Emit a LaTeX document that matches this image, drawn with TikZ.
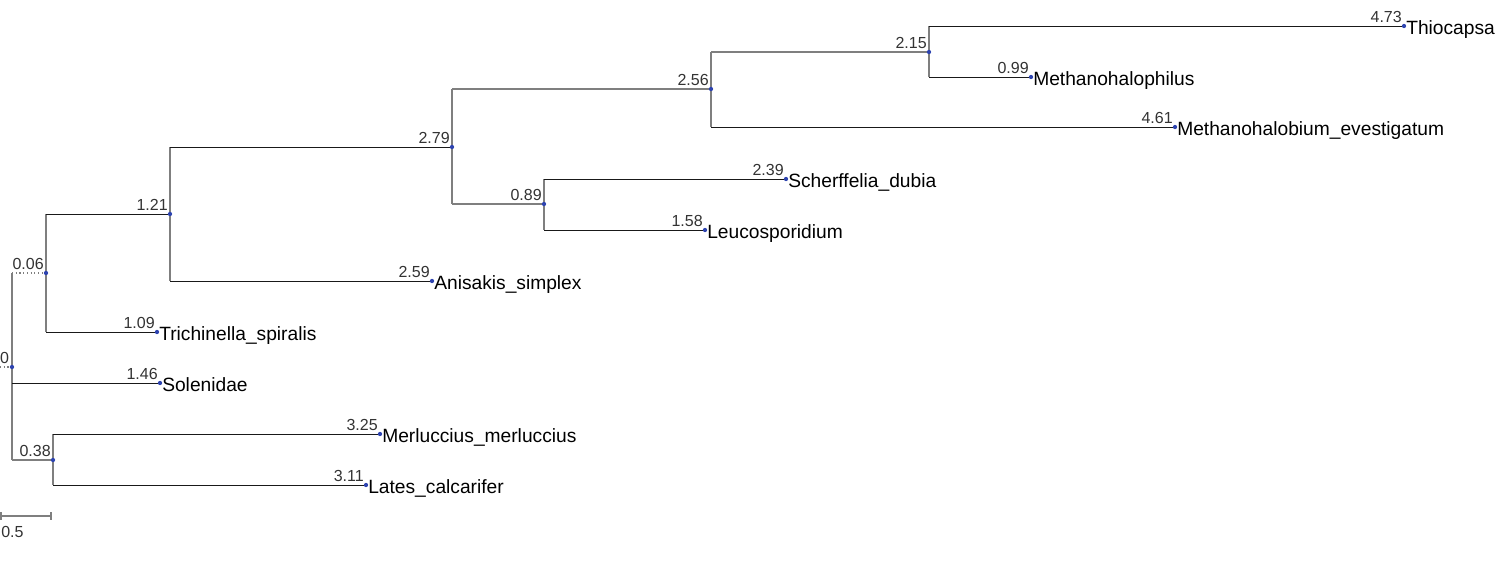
\documentclass[tikz,border=0pt]{standalone}
\usepackage{fontspec}
\setmainfont{Liberation Sans}
\definecolor{dotblue}{HTML}{2E44B0}
\definecolor{branchgray}{HTML}{7F7F7F}
\begin{document}
\begin{tikzpicture}[x=0.75pt,y=-0.75pt,
  hline/.style={draw=black!90, line width=0.7pt},
  gline/.style={draw=branchgray, line width=1.3pt},
  dline/.style={draw=branchgray, line width=0.8pt, dotted},
  pt/.style={circle, fill=dotblue, inner sep=0pt, minimum size=2.6pt},
  leaf/.style={anchor=base west, inner sep=0pt, font=\fontsize{14.4pt}{16pt}\selectfont},
  blen/.style={anchor=base east, inner sep=0pt, font=\fontsize{12pt}{14pt}\selectfont, text=black!80},
]
\useasboundingbox (0,0) rectangle (1497,562);
\fill[white] (0,0) rectangle (1497,562);

% internal nodes
\node[pt] (r)   at (12,367) {};
\node[pt] (n06) at (46,273) {};
\node[pt] (n121) at (170,214) {};
\node[pt] (n279) at (452,147) {};
\node[pt] (n256) at (711,89) {};
\node[pt] (n215) at (929,52) {};
\node[pt] (n089) at (544,204) {};
\node[pt] (n038) at (53,460) {};
% leaves
\node[pt] (thio) at (1404,26) {};
\node[pt] (mphil) at (1031,77) {};
\node[pt] (mbium) at (1175,127) {};
\node[pt] (sch) at (786,179) {};
\node[pt] (leu) at (705,230) {};
\node[pt] (ani) at (432,281) {};
\node[pt] (tri) at (157,332) {};
\node[pt] (sol) at (160,383) {};
\node[pt] (mer) at (380,434) {};
\node[pt] (lat) at (366,485) {};

% vertical segments
\draw[gline] (r.center |- n06.center) -- (r.center |- n038.center);
\draw[gline] (n06.center |- n121.center) -- (n06.center |- tri.center);
\draw[gline] (n121.center |- n279.center) -- (n121.center |- ani.center);
\draw[gline] (n279.center |- n256.center) -- (n279.center |- n089.center);
\draw[gline] (n256.center |- n215.center) -- (n256.center |- mbium.center);
\draw[gline] (n215.center |- thio.center) -- (n215.center |- mphil.center);
\draw[gline] (n089.center |- sch.center) -- (n089.center |- leu.center);
\draw[gline] (n038.center |- mer.center) -- (n038.center |- lat.center);

% horizontal segments
\draw[dline] (0,367) -- (r.center);
\draw[dline] (r.center |- n06.center) -- (n06.center);
\draw[hline] (r.center |- sol.center) -- (sol.center);
\draw[gline] (r.center |- n038.center) -- (n038.center);
\draw[hline] (n06.center |- n121.center) -- (n121.center);
\draw[hline] (n06.center |- tri.center) -- (tri.center);
\draw[hline] (n121.center |- n279.center) -- (n279.center);
\draw[hline] (n121.center |- ani.center) -- (ani.center);
\draw[gline] (n279.center |- n256.center) -- (n256.center);
\draw[gline] (n279.center |- n089.center) -- (n089.center);
\draw[gline] (n256.center |- n215.center) -- (n215.center);
\draw[hline] (n256.center |- mbium.center) -- (mbium.center);
\draw[hline] (n215.center |- thio.center) -- (thio.center);
\draw[hline] (n215.center |- mphil.center) -- (mphil.center);
\draw[hline] (n089.center |- sch.center) -- (sch.center);
\draw[hline] (n089.center |- leu.center) -- (leu.center);
\draw[hline] (n038.center |- mer.center) -- (mer.center);
\draw[hline] (n038.center |- lat.center) -- (lat.center);

% dots on top
\foreach \n in {r,n06,n121,n279,n256,n215,n089,n038,thio,mphil,mbium,sch,leu,ani,tri,sol,mer,lat}
  \fill[dotblue] (\n.center) circle (1.6pt);

% branch length labels
\node[blen] (lr) at ([xshift=-2pt,yshift=2.5pt]r.center) {0};
\node[blen] (l06) at ([xshift=-1.5pt,yshift=2.5pt]n06.center) {0.06};
\node[blen] (l121) at ([xshift=-1.5pt,yshift=2.5pt]n121.center) {1.21};
\node[blen] (l279) at ([xshift=-1.5pt,yshift=2.5pt]n279.center) {2.79};
\node[blen] (l256) at ([xshift=-1.5pt,yshift=2.5pt]n256.center) {2.56};
\node[blen] (l215) at ([xshift=-1.5pt,yshift=2.5pt]n215.center) {2.15};
\node[blen] (l089) at ([xshift=-1.5pt,yshift=2.5pt]n089.center) {0.89};
\node[blen] (l038) at ([xshift=-1.5pt,yshift=2.5pt]n038.center) {0.38};
\node[blen] (lthio) at ([xshift=-1.5pt,yshift=2.5pt]thio.center) {4.73};
\node[blen] (lmphil) at ([xshift=-1.5pt,yshift=2.5pt]mphil.center) {0.99};
\node[blen] (lmbium) at ([xshift=-1.5pt,yshift=2.5pt]mbium.center) {4.61};
\node[blen] (lsch) at ([xshift=-1.5pt,yshift=2.5pt]sch.center) {2.39};
\node[blen] (lleu) at ([xshift=-1.5pt,yshift=2.5pt]leu.center) {1.58};
\node[blen] (lani) at ([xshift=-1.5pt,yshift=2.5pt]ani.center) {2.59};
\node[blen] (ltri) at ([xshift=-1.5pt,yshift=2.5pt]tri.center) {1.09};
\node[blen] (lsol) at ([xshift=-1.5pt,yshift=2.5pt]sol.center) {1.46};
\node[blen] (lmer) at ([xshift=-1.5pt,yshift=2.5pt]mer.center) {3.25};
\node[blen] (llat) at ([xshift=-1.5pt,yshift=2.5pt]lat.center) {3.11};

% leaf names
\node[leaf] (tthio) at ([xshift=1.5pt,yshift=-6pt]thio.center) {Thiocapsa};
\node[leaf] (tmphil) at ([xshift=1.5pt,yshift=-6pt]mphil.center) {Methanohalophilus};
\node[leaf] (tmbium) at ([xshift=1.5pt,yshift=-6pt]mbium.center) {Methanohalobium\_evestigatum};
\node[leaf] (tsch) at ([xshift=1.5pt,yshift=-6pt]sch.center) {Scherffelia\_dubia};
\node[leaf] (tleu) at ([xshift=1.5pt,yshift=-6pt]leu.center) {Leucosporidium};
\node[leaf] (tani) at ([xshift=1.5pt,yshift=-6pt]ani.center) {Anisakis\_simplex};
\node[leaf] (ttri) at ([xshift=1.5pt,yshift=-6pt]tri.center) {Trichinella\_spiralis};
\node[leaf] (tsol) at ([xshift=1.5pt,yshift=-6pt]sol.center) {Solenidae};
\node[leaf] (tmer) at ([xshift=1.5pt,yshift=-6pt]mer.center) {Merluccius\_merluccius};
\node[leaf] (tlat) at ([xshift=1.5pt,yshift=-6pt]lat.center) {Lates\_calcarifer};

% scale bar
\coordinate (sb1) at (1,516);
\coordinate (sb2) at (51,516);
\draw[gline] (sb1) -- (sb2);
\draw[gline] ([yshift=3pt]sb1) -- ([yshift=-3pt]sb1);
\draw[gline] ([yshift=3pt]sb2) -- ([yshift=-3pt]sb2);
\node[anchor=base west, inner sep=0pt, font=\fontsize{12pt}{14pt}\selectfont, text=black!80] (sbl) at (1,537) {0.5};
\end{tikzpicture}
\end{document}
